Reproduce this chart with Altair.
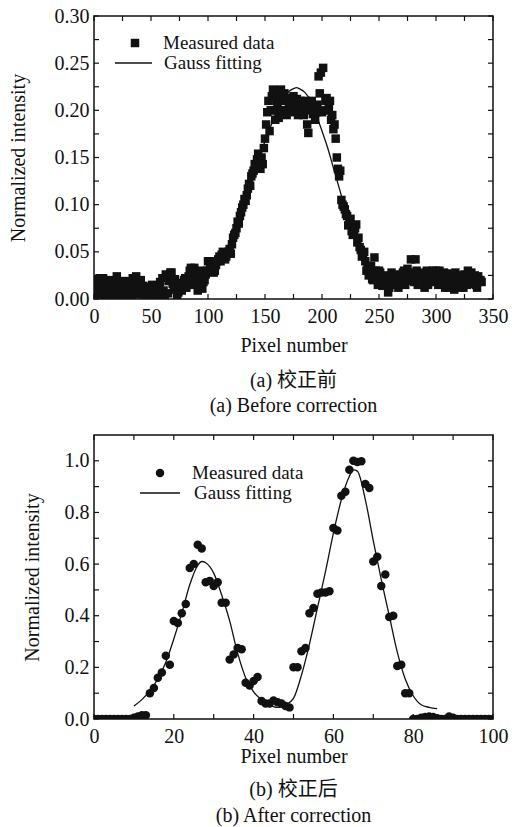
import altair as alt
import pandas as pd

# ---------------- data: (a) before correction ----------------
top_px_a = list(range(0, 341, 2))
top_int_a = [
    0.012, 0.02, 0.005, 0.015, 0.022, 0.008, 0.003, 0.013, 0.018, 0.006,
    0.024, 0.01, 0.002, 0.012, 0.008, 0.015, 0.004, 0.022, 0.016, 0.009,
    0.013, 0.005, 0.011, 0.002, 0.007, 0.009, 0.012, 0.004, 0.008, 0.018,
    0.022, 0.003, 0.024, 0.019, 0.028, 0.014, 0.01, 0.007, 0.015, 0.012,
    0.022, 0.018, 0.03, 0.025, 0.033, 0.028, 0.014, 0.022, 0.018, 0.026,
    0.04, 0.035, 0.035, 0.03, 0.04, 0.045, 0.047, 0.047, 0.045, 0.05,
    0.048, 0.065, 0.07, 0.082, 0.088, 0.097, 0.106, 0.11, 0.122, 0.13,
    0.136, 0.14, 0.154, 0.138, 0.143, 0.17, 0.198, 0.178, 0.215, 0.2,
    0.21, 0.192, 0.222, 0.21, 0.2, 0.213, 0.203, 0.21, 0.198, 0.212,
    0.2, 0.208, 0.195, 0.21, 0.176, 0.2, 0.196, 0.19, 0.206, 0.218,
    0.198, 0.2, 0.213, 0.203, 0.19, 0.18, 0.17, 0.138, 0.136, 0.1,
    0.095, 0.088, 0.083, 0.072, 0.07, 0.079, 0.065, 0.052, 0.047, 0.04,
    0.035, 0.03, 0.021, 0.044, 0.025, 0.03, 0.02, 0.022, 0.015, 0.007,
    0.016, 0.022, 0.015, 0.02, 0.026, 0.018, 0.03, 0.02, 0.025, 0.042,
    0.023, 0.042, 0.015, 0.023, 0.02, 0.012, 0.03, 0.022, 0.025, 0.018,
    0.03, 0.015, 0.025, 0.02, 0.012, 0.027, 0.018, 0.022, 0.01, 0.02,
    0.015, 0.025, 0.012, 0.02, 0.03, 0.022, 0.016, 0.025, 0.012, 0.02,
    0.018,
]
top_px_b = [
    1, 3, 5, 7, 9, 11, 13, 15, 17, 19, 21, 23, 25, 27, 29, 31, 33, 35, 37, 39,
    41, 43, 45, 47, 49, 51, 53, 55, 57, 59, 61, 63, 65, 67, 69, 71, 73, 75, 77, 79,
    81, 83, 85, 87, 89, 91, 93, 95, 97, 99,
    101, 103, 105, 107, 109, 111, 113, 115, 117, 119, 121, 123, 125, 127, 129,
    131, 133, 135, 137, 139, 141, 143, 145, 147, 149, 151,
    153, 155, 157, 159, 161, 163, 165, 167, 169, 171, 173, 175, 177, 179, 181,
    183, 185, 187, 189, 191, 193, 195, 197, 199, 201, 203, 205, 207,
    209, 211, 213, 215, 217, 219, 221, 223, 225, 227, 229, 231, 233, 235, 237,
    239, 241, 243, 245, 247, 249,
    251, 253, 255, 257, 259, 261, 263, 265, 267, 269, 271, 273, 275, 277, 279,
    281, 283, 285, 287, 289, 291, 293, 295, 297, 299, 301, 303, 305, 307, 309,
    311, 313, 315, 317, 319, 321, 323, 325, 327, 329, 331, 333, 335, 337, 339,
]
top_int_b = [
    0.005, 0.018, 0.022, 0.01, 0.003, 0.016, 0.009, 0.02, 0.004, 0.012,
    0.017, 0.007, 0.003, 0.019, 0.006, 0.011, 0.002, 0.017, 0.024, 0.005,
    0.02, 0.014, 0.009, 0.013, 0.003, 0.015, 0.007, 0.002, 0.011, 0.005,
    0.009, 0.026, 0.006, 0.028, 0.016, 0.021, 0.004, 0.017, 0.009, 0.02,
    0.012, 0.024, 0.033, 0.015, 0.022, 0.009, 0.03, 0.011, 0.02, 0.03,
    0.03, 0.04, 0.028, 0.036, 0.042, 0.04, 0.05, 0.042, 0.048, 0.053, 0.058,
    0.068, 0.075, 0.08, 0.092, 0.1, 0.104, 0.117, 0.12, 0.133, 0.143, 0.148,
    0.14, 0.15, 0.16, 0.185,
    0.21, 0.2, 0.222, 0.19, 0.205, 0.215, 0.2, 0.218, 0.195, 0.208, 0.2,
    0.215, 0.205, 0.195, 0.21, 0.2, 0.205, 0.185, 0.205, 0.21, 0.2, 0.198,
    0.236, 0.24, 0.245, 0.21, 0.2, 0.21,
    0.195, 0.185, 0.15, 0.13, 0.105, 0.098, 0.09, 0.078, 0.085, 0.068, 0.075,
    0.06, 0.055, 0.045, 0.05, 0.03, 0.025, 0.035, 0.02, 0.03, 0.015,
    0.028, 0.014, 0.025, 0.02, 0.012, 0.028, 0.018, 0.025, 0.012, 0.022,
    0.028, 0.015, 0.032, 0.02, 0.028, 0.018, 0.03, 0.025, 0.016, 0.028,
    0.022, 0.015, 0.028, 0.03, 0.02, 0.025, 0.03, 0.016, 0.028, 0.02,
    0.012, 0.026, 0.018, 0.028, 0.022, 0.012, 0.02, 0.026, 0.015, 0.02,
    0.028, 0.02, 0.015, 0.024, 0.02,
]
top_fit_px = [0, 20, 40, 60, 80, 90, 100, 105, 110, 115, 120, 125, 130, 135,
              140, 145, 150, 155, 160, 165, 170, 175, 178, 180, 185, 190, 195,
              200, 205, 210, 215, 220, 225, 230, 235, 240, 245, 250, 260, 270,
              290, 340]
top_fit_int = [0.015, 0.015, 0.015, 0.016, 0.018, 0.021, 0.027, 0.032, 0.039,
               0.047, 0.057, 0.072, 0.092, 0.112, 0.133, 0.152, 0.167, 0.183,
               0.198, 0.21, 0.219, 0.223, 0.224, 0.223, 0.219, 0.21, 0.195,
               0.178, 0.16, 0.139, 0.118, 0.097, 0.078, 0.062, 0.048, 0.038,
               0.03, 0.025, 0.019, 0.016, 0.015, 0.015]
top_x_labels = [0, 50, 100, 150, 200, 250, 300, 350]
top_x_ticks = [0, 25, 50, 75, 100, 125, 150, 175, 200, 225, 250, 275, 300, 325, 350]
top_y_labels = [0.0, 0.05, 0.10, 0.15, 0.20, 0.25, 0.30]
top_y_ticks = [0.0, 0.025, 0.05, 0.075, 0.10, 0.125, 0.15, 0.175, 0.20, 0.225, 0.25, 0.275, 0.30]

# ---------------- data: (b) after correction ----------------
bot_px = list(range(0, 101))
bot_int = [
    0, 0, 0, 0, 0, 0, 0, 0, 0, 0,
    0.005, 0.01, 0.015, 0.015,
    0.10, 0.12, 0.16, 0.18, 0.245, 0.21,
    0.38, 0.372, 0.41, 0.445, 0.585, 0.60, 0.675, 0.66, 0.53, 0.535,
    0.515, 0.53, 0.45, 0.45, 0.23, 0.25, 0.275, 0.27, 0.14, 0.13,
    0.147, 0.163, 0.07, 0.06, 0.06, 0.072, 0.065, 0.06, 0.05, 0.045,
    0.2, 0.2, 0.262, 0.275, 0.41, 0.43, 0.485, 0.49, 0.49, 0.495,
    0.74, 0.73, 0.865, 0.88, 0.965, 1.0, 0.995, 0.998, 0.91, 0.895,
    0.61, 0.628, 0.515, 0.56, 0.395, 0.40, 0.205, 0.21, 0.10, 0.10,
    0, 0, 0.005, 0.008, 0.01, 0.008, 0.003, 0, 0, 0.01,
    0.005, 0, 0, 0, 0, 0, 0, 0, 0, 0, 0,
]
bot_fit_px = [10, 12, 14, 16, 18, 20, 22, 24, 26, 27, 28, 30, 32, 34, 36, 38, 40,
              42, 44, 46, 47, 48, 50, 52, 54, 56, 58, 60, 62, 64, 65, 66, 68, 70,
              72, 74, 76, 78, 80, 82, 84, 86]
bot_fit_int = [0.05, 0.075, 0.11, 0.155, 0.22, 0.31, 0.41, 0.52, 0.595, 0.61,
               0.605, 0.565, 0.48, 0.38, 0.255, 0.16, 0.105, 0.075, 0.055, 0.045,
               0.047, 0.055, 0.08, 0.17, 0.29, 0.43, 0.57, 0.72, 0.85, 0.94,
               0.965, 0.96, 0.85, 0.69, 0.54, 0.40, 0.26, 0.155, 0.09, 0.055,
               0.045, 0.04]
bot_x_labels = [0, 20, 40, 60, 80, 100]
bot_x_ticks = [0, 10, 20, 30, 40, 50, 60, 70, 80, 90, 100]
bot_y_labels = [0.0, 0.2, 0.4, 0.6, 0.8, 1.0]
bot_y_ticks = [0.0, 0.1, 0.2, 0.3, 0.4, 0.5, 0.6, 0.7, 0.8, 0.9, 1.0]

FONT = "Liberation Serif"
CJK = "Liberation Serif, Noto Sans CJK SC"
INK = "#111111"
W = 399
H1 = 283
H2 = 284
TICK = 5


def panel(pts_df, fit_df, H, xdom, ydom, xlabels, xticks, ylabels, yticks,
          yfmt, ytitle_pad, xtitle_pad, point_mark, legend_pos, captions):
    X = alt.X("x:Q", scale=alt.Scale(domain=xdom, nice=False, zero=False),
              axis=alt.Axis(values=xlabels, format="d", ticks=False, domain=False,
                            grid=False, labelPadding=7, labelFlush=False,
                            title="Pixel number", titlePadding=xtitle_pad))
    Y = alt.Y("y:Q", scale=alt.Scale(domain=ydom, nice=False, zero=False),
              axis=alt.Axis(values=ylabels, format=yfmt, ticks=False, domain=False,
                            grid=False, labelPadding=5, labelFlush=False,
                            title="Normalized intensity", titlePadding=ytitle_pad))
    xt = pd.DataFrame({"x": xticks})
    yt = pd.DataFrame({"y": yticks})
    one = pd.DataFrame({"k": [1]})

    fit = alt.Chart(fit_df).mark_line(color=INK, strokeWidth=1.3,
                                      interpolate="monotone").encode(x=X, y=Y)
    pts = point_mark(alt.Chart(pts_df)).encode(x=X, y=Y)
    tb = alt.Chart(xt).mark_rule(color=INK, strokeWidth=1.2).encode(
        x=X, y=alt.value(H), y2=alt.value(H - TICK))
    tt = alt.Chart(xt).mark_rule(color=INK, strokeWidth=1.2).encode(
        x=X, y=alt.value(0), y2=alt.value(TICK))
    tl = alt.Chart(yt).mark_rule(color=INK, strokeWidth=1.2).encode(
        y=Y, x=alt.value(0), x2=alt.value(TICK))
    tr = alt.Chart(yt).mark_rule(color=INK, strokeWidth=1.2).encode(
        y=Y, x=alt.value(W), x2=alt.value(W - TICK))

    (mx, my, lx1, lx2, ly, tx1, tx2) = legend_pos
    leg_pt = point_mark(alt.Chart(one)).encode(x=alt.value(mx), y=alt.value(my))
    leg_ln = alt.Chart(one).mark_rule(color=INK, strokeWidth=1.3).encode(
        x=alt.value(lx1), x2=alt.value(lx2), y=alt.value(ly))
    leg_t1 = alt.Chart(one).mark_text(text="Measured data", align="left",
                                      baseline="middle", font=FONT, fontSize=19,
                                      color=INK).encode(x=alt.value(tx1), y=alt.value(my))
    leg_t2 = alt.Chart(one).mark_text(text="Gauss fitting", align="left",
                                      baseline="middle", font=FONT, fontSize=19,
                                      color=INK).encode(x=alt.value(tx2), y=alt.value(ly))
    caps = [
        alt.Chart(one).mark_text(text=t, align="center", baseline="middle",
                                 font=CJK, fontSize=20, color=INK).encode(
            x=alt.value(W / 2), y=alt.value(yy))
        for t, yy in captions
    ]
    return alt.layer(fit, pts, tb, tt, tl, tr, leg_pt, leg_ln, leg_t1, leg_t2,
                     *caps).properties(width=W, height=H)


top_pts = pd.DataFrame({"x": top_px_a + top_px_b, "y": top_int_a + top_int_b})
top_fit = pd.DataFrame({"x": top_fit_px, "y": top_fit_int})
bot_pts = pd.DataFrame({"x": bot_px, "y": bot_int})
bot_fit = pd.DataFrame({"x": bot_fit_px, "y": bot_fit_int})


def square(c):
    return c.mark_point(shape="square", filled=True, size=72, color=INK,
                        opacity=1, clip=True)


def dot(c):
    return c.mark_circle(size=72, color=INK, opacity=1, clip=True)


top = panel(top_pts, top_fit, H1, [0, 350], [0, 0.30], top_x_labels, top_x_ticks,
            top_y_labels, top_y_ticks, ".2f", 26, 9, square,
            (41, 27, 21, 58, 47, 69, 70),
            [("(a) 校正前", 365), ("(a) Before correction", 390)])
bot = panel(bot_pts, bot_fit, H2, [0, 100], [0, 1.1], bot_x_labels, bot_x_ticks,
            bot_y_labels, bot_y_ticks, ".1f", 22, 0, dot,
            (66, 38, 46, 86, 58, 98, 100),
            [("(b) 校正后", 355), ("(b) After correction", 381)])

chart = alt.vconcat(top, bot, spacing=16).properties(
    padding={"left": 7, "top": 5, "right": 0, "bottom": 0}
).configure_view(stroke=INK, strokeWidth=1.5).configure_axis(
    labelFont=FONT, titleFont=FONT, labelFontSize=20, titleFontSize=20,
    labelColor=INK, titleColor=INK, titleFontWeight="normal"
)

chart.save("out.html", embed_options={"renderer": "svg", "actions": False})
